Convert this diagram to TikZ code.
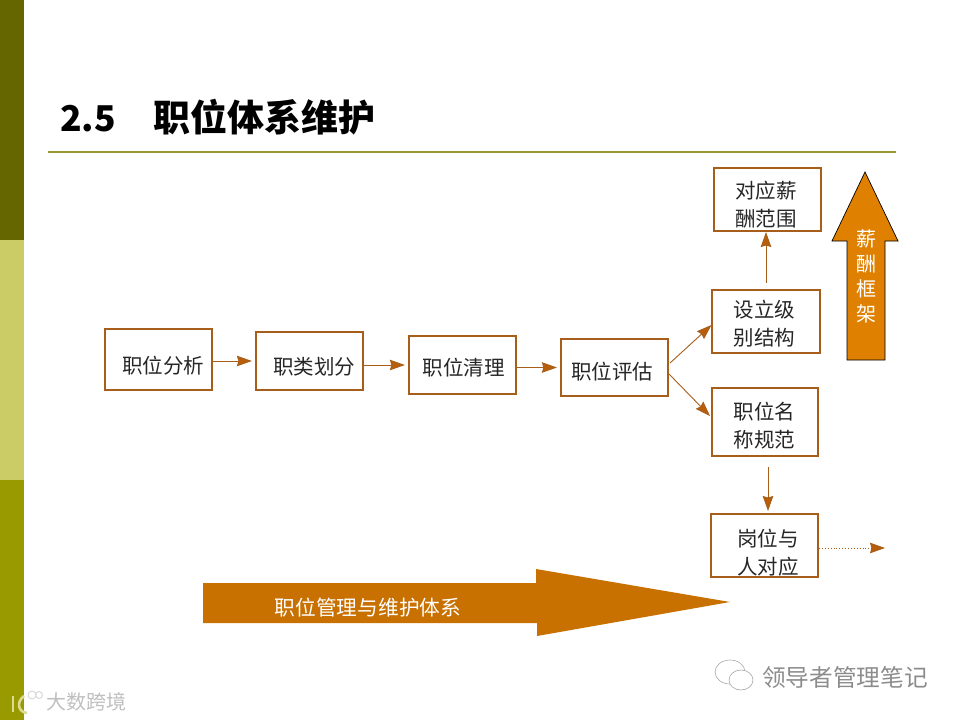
\documentclass[tikz,border=0pt]{standalone}
\usepackage{fontspec}
\setmainfont{Noto Sans CJK SC}
\usetikzlibrary{arrows.meta}
\definecolor{BarDark}{HTML}{666600}
\definecolor{BarLight}{HTML}{CCCC66}
\definecolor{BarMid}{HTML}{999900}
\definecolor{RuleCol}{HTML}{999933}
\definecolor{BoxCol}{HTML}{A65E1A}
\definecolor{TipCol}{HTML}{B85E0A}
\definecolor{BigArrow}{HTML}{C87000}
\definecolor{UpArrow}{HTML}{E08000}
\newcommand{\Wd}{105pt}
\newcommand{\Ht}{58pt}
% text of a box, moved from the centre of the box
\newcommand{\Off}[3]{\raisebox{\dimexpr #2-8pt\relax}[0pt][0pt]{\makebox[0pt]{\hspace*{\dimexpr 2\dimexpr #1\relax\relax}\begin{tabular}[c]{@{}c@{}}#3\end{tabular}}}}
\tikzset{OrangeBox/.style={
    inner sep=0pt,
    minimum width=\Wd,
    minimum height=\Ht,
    draw=BoxCol,
    line width=2.2pt,
    fill=white,
    font=\fontsize{20.5pt}{28pt}\selectfont,
    text=black!85,
    align=center
    }
}
\tikzset{FlowArrow/.style={
    draw=BoxCol,
    line width=0.9pt,
    -{Stealth[length=15pt,width=10.5pt,inset=1.5pt,fill=TipCol]}
    }
}
\tikzset{WhiteText/.style={
    text=white,
    inner sep=0pt,
    align=center
    }
}
\tikzset{MarkText/.style={
    text=black!45,
    inner sep=0pt
    }
}
\begin{document}
\begin{tikzpicture}[x=1pt,y=-1pt,node distance=152pt]
    \useasboundingbox (0,0) rectangle (960,720);

    % side bar and title
    \fill[BarDark] (0,0) rectangle (24,240);
    \fill[BarLight] (0,240) rectangle (24,480);
    \fill[BarMid] (0,480) rectangle (24,720);
    \node (title) [anchor=base west, inner sep=0pt, font=\fontsize{35.5pt}{40pt}\selectfont\bfseries] at (60,131) {2.5\hspace{38pt}{\fontsize{37pt}{40pt}\selectfont 职位体系维护}};
    \coordinate (r1) at (48,152);
    \coordinate (r2) at (896,152);
    \draw[RuleCol, line width=1.6pt] (r1) -- (r2);

    % main row
    \node (Fenxi) [OrangeBox, minimum width=107pt, minimum height=61pt] at (158.5,359.5) {\Off{4.5pt}{-5.5pt}{职位分析}};
    \node (Huafen) [OrangeBox, minimum width=107pt, right of=Fenxi, xshift=-1pt, yshift=-1.5pt] {\Off{4.5pt}{-5pt}{职类划分}};
    \node (Qingli) [OrangeBox, minimum width=107pt, right of=Huafen, xshift=1pt, yshift=-4pt] {\Off{1pt}{-2pt}{职位清理}};
    \node (Pinggu) [OrangeBox, minimum width=107pt, minimum height=57pt, right of=Qingli, yshift=-2.5pt] {\Off{-2.5pt}{-3.5pt}{职位评估}};
        \draw[FlowArrow, shorten >=3pt] (Fenxi.east |- Huafen.west) -- (Huafen.west);
        \draw[FlowArrow, shorten >=3pt] (Huafen.east |- Qingli.west) -- (Qingli.west);
        \draw[FlowArrow, shorten >=3pt] (Qingli.east |- Pinggu.west) -- (Pinggu.west);

    % right column
    \node (Jibie) [OrangeBox, minimum width=108pt, minimum height=63pt] at (766,321.5) {\Off{-1.5pt}{-2pt}{设立级\\别结构}};
    \node (Duiying) [OrangeBox, minimum width=107pt, minimum height=63pt] at (767.5,199.5) {\Off{-1.5pt}{-4.5pt}{对应薪\\酬范围}};
    \node (Mingcheng) [OrangeBox, minimum width=106pt, minimum height=68pt] at (765,422) {\Off{-0.5pt}{-3pt}{职位名\\称规范}};
    \node (Gangwei) [OrangeBox, minimum width=107pt, minimum height=63pt] at (764.5,545.5) {\Off{3.5pt}{-7pt}{岗位与\\人对应}};
    \coordinate (p1) at (670,363);
    \coordinate (p2) at (669,374);
    \coordinate (q1) at (711.5,325);
    \coordinate (q2) at (710,416);
        \draw[FlowArrow] (p1) -- (q1);
        \draw[FlowArrow] (p2) -- (q2);
    \coordinate (j1) at (766,283);
    \coordinate (j2) at (766,232);
        \draw[FlowArrow] (j1) -- (j2);
    \coordinate (m1) at (768,467);
    \coordinate (m2) at (768,511);
        \draw[FlowArrow] (m1) -- (m2);
    \coordinate (g1) at (819,548);
    \coordinate (g2) at (885,548);
        \draw[FlowArrow, dotted] (g1) -- (g2);

    % big arrows
    \draw[black, fill=UpArrow, line width=0.7pt] (865,172) -- (898,241) -- (885,241) -- (885,360) -- (847,360) -- (847,241) -- (832,241) -- cycle;
    \node (Kuangjia) [WhiteText, font=\fontsize{20pt}{25pt}\selectfont] at (866.5,276.5) {薪\\酬\\框\\架};
    \fill[BigArrow] (203,583) -- (536,583) -- (536,569) -- (730,602) -- (537,636) -- (537,623) -- (203,623) -- cycle;
    \node (Tixi) [WhiteText, font=\fontsize{20.7pt}{25pt}\selectfont] at (368,607.5) {职位管理与维护体系};

    % marks
    \node (Mark1) [MarkText, font=\fontsize{23.7pt}{25pt}\selectfont] at (845,677) {领导者管理笔记};
    \draw[black!35, fill=white, line width=0.6pt] (730,672) ellipse (15 and 12);
    \draw[black!35, fill=white, line width=0.6pt] (741,680) ellipse (12 and 10);
    \node (Mark2) [MarkText, text=black!25, font=\fontsize{20pt}{21pt}\selectfont] at (86.5,702) {大数跨境};
    \draw[BarLight!70!white, line width=2.6pt] (13,696) -- (13,712);
    \draw[BarLight!70!white, line width=2.6pt] (24,696) .. controls (16,702) and (18,712) .. (27,713);
    \draw[black!15, line width=1pt] (32,695) circle (4);
    \draw[black!15, line width=1pt] (39,695) circle (3.5);
\end{tikzpicture}
\end{document}
